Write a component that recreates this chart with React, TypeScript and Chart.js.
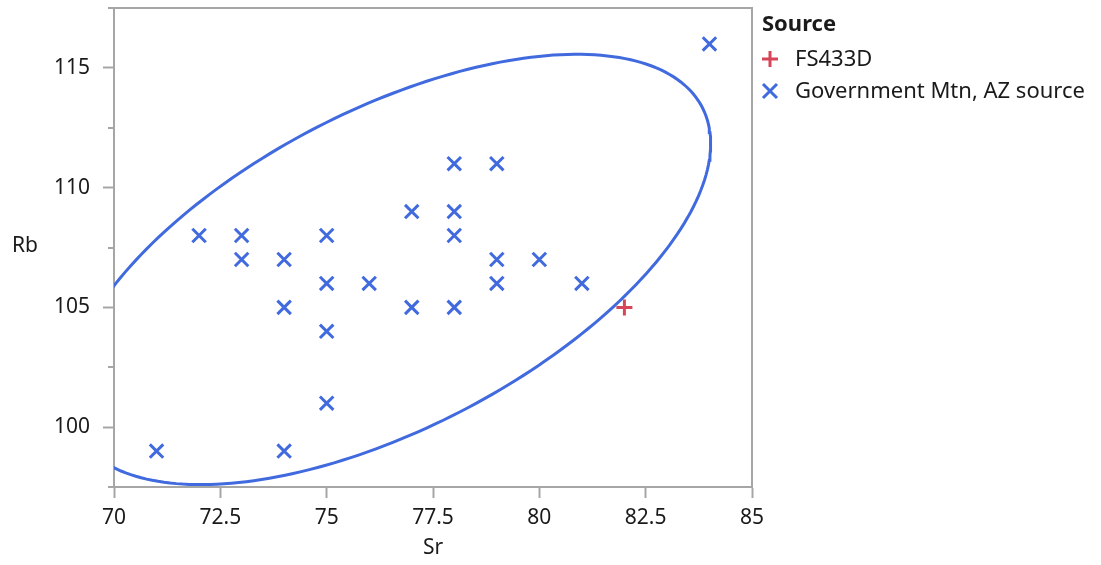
import React, { useEffect, useRef } from "react";
import { Chart, registerables } from "chart.js";

Chart.register(...registerables);

// ---- data ----
const govSr = [71, 72, 73, 73, 74, 74, 74, 75, 75, 75, 75, 76, 77, 77, 78, 78, 78, 78, 79, 79, 79, 80, 81, 84];
const govRb = [99, 108, 108, 107, 107, 105, 99, 108, 106, 104, 101, 106, 109, 105, 111, 109, 108, 105, 111, 107, 106, 107, 106, 116];
const fsSr = [82];
const fsRb = [105];
const seriesNames = ["FS433D", "Government Mtn, AZ source"];
const legendTitle = "Source";
const xTitle = "Sr";
const yTitle = "Rb";
const xMin = 70, xMax = 85, xStep = 2.5;
const yMin = 97.5, yMax = 117.5, yStep = 2.5, yLabelEvery = 5;
const chi2_95 = 5.991; // 95% density ellipse, 2 dof

const BLUE = "rgb(64,106,222)";
const RED = "rgb(214,70,88)";
const AXIS = "#a6a6a6";
const TEXT = "#1a1a1a";
const FONT = "'Noto Sans', 'Open Sans', sans-serif";
const TICK_SIZE = 21;
const LEGEND_SIZE = 22;

function densityEllipse(xs: number[], ys: number[]) {
  const n = xs.length;
  const mx = xs.reduce((a, b) => a + b, 0) / n;
  const my = ys.reduce((a, b) => a + b, 0) / n;
  let sxx = 0, syy = 0, sxy = 0;
  for (let i = 0; i < n; i++) {
    sxx += (xs[i] - mx) ** 2;
    syy += (ys[i] - my) ** 2;
    sxy += (xs[i] - mx) * (ys[i] - my);
  }
  sxx /= n - 1; syy /= n - 1; sxy /= n - 1;
  const tr = sxx + syy;
  const det = sxx * syy - sxy * sxy;
  const l1 = tr / 2 + Math.sqrt((tr * tr) / 4 - det);
  const l2 = tr / 2 - Math.sqrt((tr * tr) / 4 - det);
  const ang = Math.atan2(l1 - sxx, sxy);
  const a = Math.sqrt(chi2_95 * l1), b = Math.sqrt(chi2_95 * l2);
  const pts: { x: number; y: number }[] = [];
  const N = 240;
  for (let k = 0; k <= N; k++) {
    const t = (k / N) * Math.PI * 2;
    const u = a * Math.cos(t), v = b * Math.sin(t);
    pts.push({ x: mx + u * Math.cos(ang) - v * Math.sin(ang), y: my + u * Math.sin(ang) + v * Math.cos(ang) });
  }
  return pts;
}

const decor = {
  id: "decor",
  afterDraw(chart: any) {
    const { ctx, chartArea: ca, scales } = chart;
    const ys = scales.y;
    ctx.save();
    // frame top/right
    ctx.strokeStyle = AXIS;
    ctx.lineWidth = 2;
    ctx.beginPath();
    ctx.moveTo(ca.left - 6, ca.top);
    ctx.lineTo(ca.right, ca.top);
    ctx.lineTo(ca.right, ca.bottom);
    ctx.stroke();
    // minor y ticks
    for (let v = yMin; v <= yMax + 1e-9; v += yStep) {
      if (Math.abs(v / yLabelEvery - Math.round(v / yLabelEvery)) < 1e-9) continue;
      const py = Math.round(ys.getPixelForValue(v));
      ctx.beginPath();
      ctx.moveTo(ca.left - 6, py);
      ctx.lineTo(ca.left, py);
      ctx.stroke();
    }
    // axis titles
    ctx.fillStyle = TEXT;
    ctx.font = `${TICK_SIZE}px ${FONT}`;
    ctx.textBaseline = "middle";
    ctx.textAlign = "center";
    ctx.fillText(xTitle, (ca.left + ca.right) / 2, 548);
    ctx.textAlign = "left";
    ctx.fillText(yTitle, 12, 246);
    // legend
    ctx.font = `bold ${LEGEND_SIZE}px ${FONT}`;
    ctx.fillText(legendTitle, 762, 25);
    ctx.font = `${LEGEND_SIZE}px ${FONT}`;
    const rows = [
      { y: 59, color: RED, style: "cross" },
      { y: 91, color: BLUE, style: "crossRot" },
    ];
    rows.forEach((r, i) => {
      ctx.strokeStyle = r.color;
      ctx.lineWidth = 3;
      ctx.beginPath();
      const cx = 770;
      if (r.style === "cross") {
        ctx.moveTo(cx - 8, r.y); ctx.lineTo(cx + 8, r.y);
        ctx.moveTo(cx, r.y - 8); ctx.lineTo(cx, r.y + 8);
      } else {
        ctx.moveTo(cx - 7, r.y - 7); ctx.lineTo(cx + 7, r.y + 7);
        ctx.moveTo(cx - 7, r.y + 7); ctx.lineTo(cx + 7, r.y - 7);
      }
      ctx.stroke();
      ctx.fillStyle = TEXT;
      ctx.fillText(seriesNames[i], 795, r.y + 1);
    });
    ctx.restore();
  },
};

export default function App() {
  const ref = useRef<HTMLCanvasElement>(null);
  useEffect(() => {
    document.body.style.margin = "0";
    const ellipse = densityEllipse(govSr, govRb);
    const chart = new Chart(ref.current!, {
      type: "scatter",
      data: {
        datasets: [
          {
            label: "ellipse",
            data: ellipse,
            showLine: true,
            pointRadius: 0,
            borderColor: BLUE,
            borderWidth: 3,
            fill: false,
            order: 0,
          } as any,
          {
            label: seriesNames[0],
            data: fsSr.map((x, i) => ({ x, y: fsRb[i] })),
            pointStyle: "cross",
            pointRadius: 8,
            borderColor: RED,
            backgroundColor: RED,
            pointBorderWidth: 3,
            order: 1,
          },
          {
            label: seriesNames[1],
            data: govSr.map((x, i) => ({ x, y: govRb[i] })),
            pointStyle: "crossRot",
            pointRadius: 9.5,
            borderColor: BLUE,
            backgroundColor: BLUE,
            pointBorderWidth: 3,
            order: 2,
          },
        ],
      },
      options: {
        animation: false,
        responsive: false,
        events: [],
        layout: { autoPadding: false, padding: { top: 8, right: 349, left: 0, bottom: 0 } },
        plugins: { legend: { display: false }, tooltip: { enabled: false } },
        scales: {
          x: {
            type: "linear",
            min: xMin,
            max: xMax,
            afterFit: (s: any) => { s.height = 78; s.paddingLeft = 0; s.paddingRight = 0; },
            afterBuildTicks: (s: any) => {
              const t = [];
              for (let v = xMin; v <= xMax + 1e-9; v += xStep) t.push({ value: v });
              s.ticks = t;
            },
            ticks: {
              color: TEXT,
              font: { family: FONT, size: TICK_SIZE },
              padding: 7,
              maxRotation: 0,
              autoSkip: false,
              callback: (v: any) => String(v),
            },
            grid: { drawOnChartArea: false, tickLength: 11, tickColor: AXIS, tickWidth: 2 },
            border: { color: AXIS, width: 2 },
          },
          y: {
            type: "linear",
            min: yMin,
            max: yMax,
            afterFit: (s: any) => { s.width = 114; s.paddingTop = 0; s.paddingBottom = 0; },
            afterBuildTicks: (s: any) => {
              const t = [];
              for (let v = yMin; v <= yMax + 1e-9; v += yStep) t.push({ value: v });
              s.ticks = t;
            },
            ticks: {
              color: TEXT,
              font: { family: FONT, size: TICK_SIZE },
              padding: 13,
              autoSkip: false,
              callback: (v: any) => (Math.abs(v / yLabelEvery - Math.round(v / yLabelEvery)) < 1e-9 ? String(v) : ""),
            },
            grid: {
              drawOnChartArea: false,
              tickLength: 11,
              tickWidth: 2,
              tickColor: (c: any) =>
                c.tick && Math.abs(c.tick.value / yLabelEvery - Math.round(c.tick.value / yLabelEvery)) < 1e-9 ? AXIS : "rgba(0,0,0,0)",
            },
            border: { color: AXIS, width: 2 },
          },
        },
      },
      plugins: [decor],
    });
    return () => chart.destroy();
  }, []);
  return <canvas ref={ref} width={1101} height={565} style={{ display: "block" }} />;
}
